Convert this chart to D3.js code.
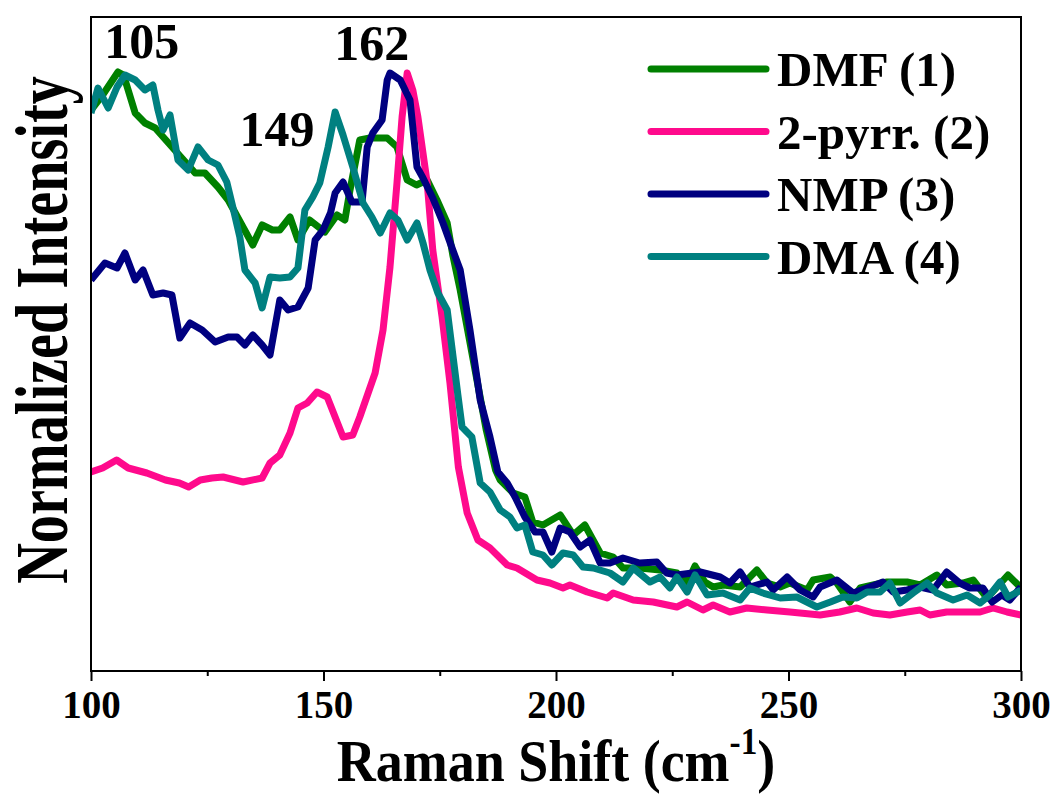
<!DOCTYPE html>
<html><head><meta charset="utf-8">
<script src="https://cdn.jsdelivr.net/npm/d3@7"></script>
<style>body{margin:0;background:#fff}svg{display:block}text{font-family:"Liberation Serif","Times New Roman",serif;font-weight:bold}</style>
</head><body><svg id="c" width="1055" height="794"></svg>
<script>
// Raman shift (cm^-1) and normalized intensity (arbitrary units) per solvent
const dmfX = [100,102.5,105.8,107,109.5,111.6,113.8,118,122.4,124.5,127.3,129.5,134.8,136.8,139,140.6,142.8,144.5,147,150.3,152.9,154.6,155.7,157.8,160,163.7,165.8,168,170,172.3,174.4,176.6,177.8,179.4,181,183,185,187,188,190.8,193.3,195,197.2,200.9,203.7,206.2,209.5,212.3,214.4,218,222.4,226,228.2,229.9,232,233.8,236,239.6,243.2,245.4,248.2,250.3,254,255.3,259,260.4,263.2,265.4,268.2,271.2,275.5,278.3,281.9,284,287.5,289.7,292.7,297.2,299.4,300];
const dmfY = [561,576,599,596,558,548,543,521,498,498,484,471,426,446,441,441,454,431,451,439,456,451,481,531,533,533,524,491,486,491,471,448,416,381,341,291,241,201,191,178,174,149,146,156,136,146,118,114,103,103,101,98,88,105,89,84,86,84,101,88,84,88,81,91,94,88,69,83,86,89,89,86,96,86,88,91,73,96,86,81];

const pyrX = [100,102.5,105.5,108,112,116,119,121,123.5,126,128.4,132.7,136.8,138.5,140.6,142.8,144.5,146.5,148.6,150.8,152.5,154.2,156.3,157.8,159.6,161.1,162.8,164.3,165.8,166.9,168,169.2,170.3,172.3,173.5,175.5,177.2,179,180.9,183.2,185.8,189.5,191.6,195.9,198.7,201.5,203,206.7,211,212.3,216.6,220.9,226,228.2,231.6,233.8,237.4,241,245.4,250.3,256.8,261,264.7,268.2,271.8,275.5,278.3,280.4,284,287.5,291.2,294,297,300];
const pyrY = [199,203,211,203,198,191,188,184,191,193,194,189,193,208,216,238,263,268,279,274,254,234,236,254,278,298,341,404,488,554,598,581,554,488,421,354,288,204,158,131,123,106,103,91,88,83,86,79,73,78,71,69,64,69,61,66,59,63,61,59,56,59,63,58,56,59,61,56,59,59,59,63,59,56];

const nmpX = [100,103,105.6,107.3,109.5,111.2,113.3,115.5,117.4,119.1,121.3,123.9,126.7,129.5,131.4,133.1,134.8,136.8,138.5,140.6,142.4,144.5,146.7,148.2,149.9,151.5,152.5,154.2,156.1,158.3,159.4,160.6,162.6,163.7,164.3,166.5,168.6,170.1,171.4,173.5,175.7,177.8,179.4,181.5,183.7,185.8,187.5,189.5,191.2,193.3,195.5,197.2,199.1,200.9,203,205.2,207.3,209.5,211.6,214.4,218,221.7,223.8,226,231,235.3,237.4,239.6,241.7,245.4,246.7,249.7,252.5,255.3,256.8,260.4,263.9,266.9,270.3,272.5,275.5,278.3,281.1,284,286.8,289,291.8,293.8,295.9,297.6,300];
const nmpY = [391,408,403,418,391,401,376,378,376,333,348,341,329,334,334,326,336,326,316,371,361,364,383,431,441,458,478,489,469,469,524,538,551,591,598,591,571,504,493,473,448,421,401,341,271,234,199,188,174,154,139,139,119,143,139,124,131,108,108,113,108,109,98,96,99,94,88,99,84,89,81,94,81,74,84,91,78,83,89,79,81,84,81,99,88,83,83,69,76,71,84];

const dmaX = [100,101.5,103.7,105.6,107.3,109.5,111.6,113.3,114.4,115.5,117,118.7,120.9,123,125.2,127.3,129.2,130.5,132,133.1,135.3,136.8,138.5,140.6,142.8,144.5,146,147.7,149.2,151,152.5,154.2,156.3,158.5,160.4,162.2,164.3,166,168,170.1,171.4,172.9,174.6,176.6,178.9,179.8,181.9,183.7,185.8,188,190.1,191.6,193.3,195,197.2,199.1,201.5,203.7,205.8,208,211.6,214.4,216.6,220.2,222.4,224.5,226,228.2,229.9,232.5,235.9,239.6,241.7,244.5,248.2,251.8,256.1,259,261.7,264.7,266.9,269.7,271.8,274,276.8,279.8,281.9,285.4,288.4,291.2,293.3,295.5,297.2,300];
const dmaY = [558,583,563,584,596,591,581,586,561,541,556,511,501,524,511,506,489,464,434,401,388,363,394,393,394,403,461,474,488,524,559,536,504,468,454,438,458,451,431,448,428,401,378,361,276,244,234,188,179,161,154,143,146,119,116,106,118,116,104,103,98,89,103,89,94,83,94,79,96,76,78,71,83,78,73,74,64,69,74,73,79,79,88,68,78,88,78,71,76,68,76,89,74,81];

const seriesNames = ["DMF (1)","2-pyrr. (2)","NMP (3)","DMA (4)"];
const seriesColors = ["#008000","#ff0a8c","#000080","#008080"];
const xTicks = [100,150,200,250,300];
const xMinorTicks = [125,175,225,275];
const peakLabels = ["105","149","162"];
const peakLabelX = [110.9,140,160.4];
const peakLabelY = [613,525,611];

const svg = d3.select("#c");
const m = {l:91, r:1021, t:17, b:671};
const x = d3.scaleLinear().domain([100,300]).range([m.l, m.r]);
const y = d3.scaleLinear().domain([0,654]).range([m.b, m.t]);

const series = [[dmfX,dmfY],[pyrX,pyrY],[nmpX,nmpY],[dmaX,dmaY]];
svg.append("clipPath").attr("id","pc").append("rect")
  .attr("x",m.l).attr("y",m.t).attr("width",m.r-m.l).attr("height",m.b-m.t);
const line = d3.line().x(d=>x(d[0])).y(d=>y(d[1]));
const g = svg.append("g").attr("clip-path","url(#pc)");
series.forEach((s,i)=>{
  const pts = s[0].map((v,j)=>[v,s[1][j]]);
  g.append("path").datum(pts).attr("d",line).attr("fill","none")
   .attr("stroke",seriesColors[i]).attr("stroke-width",7)
   .attr("stroke-linejoin","round").attr("stroke-linecap","butt");
});

// frame
svg.append("rect").attr("x",m.l).attr("y",m.t).attr("width",m.r-m.l).attr("height",m.b-m.t)
  .attr("fill","none").attr("stroke","#000").attr("stroke-width",2);

// x axis
const ax = svg.append("g").attr("transform",`translate(0,${m.b})`)
  .call(d3.axisBottom(x).tickValues(xTicks).tickSize(10).tickPadding(9).tickFormat(d3.format("d")));
ax.select(".domain").remove();
ax.selectAll("line").attr("stroke","#000").attr("stroke-width",2);
ax.selectAll("text").attr("font-size",39).attr("fill","#000").attr("font-family","Liberation Serif");
const axm = svg.append("g").attr("transform",`translate(0,${m.b})`)
  .call(d3.axisBottom(x).tickValues(xMinorTicks).tickSize(5).tickFormat(""));
axm.select(".domain").remove();
axm.selectAll("line").attr("stroke","#000").attr("stroke-width",2);

// axis titles
const xt = svg.append("text").attr("transform","translate(556,781) scale(0.9,1)")
  .attr("text-anchor","middle").attr("font-size",60);
xt.append("tspan").text("Raman Shift (cm");
xt.append("tspan").text("-1").attr("font-size",37).attr("dy",-27);
xt.append("tspan").text(")").attr("dy",27);
svg.append("text").attr("transform","translate(67,330) rotate(-90) scale(0.75,1)").attr("text-anchor","middle")
  .attr("font-size",75).text("Normalized Intensity");

// peak annotations
peakLabels.forEach((t,i)=>{
  svg.append("text").attr("x",x(peakLabelX[i])).attr("y",y(peakLabelY[i])).attr("text-anchor","middle")
    .attr("font-size",50).text(t);
});

// legend
const lg = svg.append("g");
seriesNames.forEach((n,i)=>{
  const ly = 69 + i*62.5;
  lg.append("line").attr("x1",651).attr("x2",766).attr("y1",ly).attr("y2",ly)
    .attr("stroke",seriesColors[i]).attr("stroke-width",7).attr("stroke-linecap","round");
  lg.append("text").attr("x",777).attr("y",ly+17).attr("font-size",49).text(n);
});
</script></body></html>
